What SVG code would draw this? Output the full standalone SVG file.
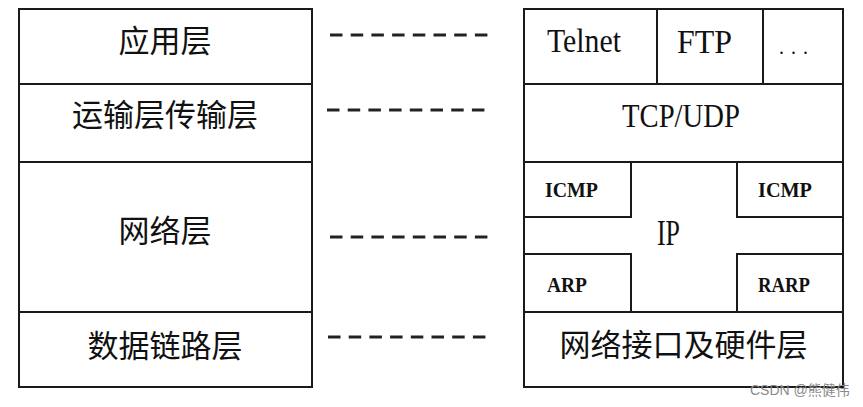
<svg xmlns="http://www.w3.org/2000/svg" width="863" height="407" viewBox="0 0 863 407">
<style>
.box{fill:#fff;stroke:#1a1a1a;stroke-width:2}
.cn{font-family:"Noto Sans CJK SC","Noto Sans CJK TC",sans-serif;font-size:31px;fill:#111;text-anchor:middle}
.en{font-family:"Liberation Serif","Times New Roman",serif;fill:#111;text-anchor:middle}
.big{font-size:33px}
.sm{font-size:22px;font-weight:bold}
.dash{stroke:#222;stroke-width:3;stroke-dasharray:12.5 8.2;fill:none}
.wm{font-family:"Liberation Sans","Noto Sans CJK SC",sans-serif;font-size:14px;fill:#8a8a8a}
</style>
<rect width="863" height="407" fill="#fff"/>
<g id="left-stack">
<g id="app"><rect class="box" x="19" y="9" width="293" height="75"/><text class="cn" x="165" y="52">应用层</text></g>
<g id="transport"><rect class="box" x="19" y="84" width="293" height="78"/><text class="cn" x="165" y="126">运输层传输层</text></g>
<g id="network"><rect class="box" x="19" y="162" width="293" height="150"/><text class="cn" x="165" y="242">网络层</text></g>
<g id="datalink"><rect class="box" x="19" y="312" width="293" height="75"/><text class="cn" x="165" y="357">数据链路层</text></g>
</g>
<g id="right-stack">
<g id="telnet"><rect class="box" x="524" y="9" width="133" height="75"/><text class="en big" x="584" y="52" textLength="74" lengthAdjust="spacingAndGlyphs">Telnet</text></g>
<g id="ftp"><rect class="box" x="657" y="9" width="106" height="75"/><text class="en big" x="704.5" y="53" textLength="55" lengthAdjust="spacingAndGlyphs">FTP</text></g>
<g id="more"><rect class="box" x="763" y="9" width="80" height="75"/><text class="en" x="793.5" y="54" font-size="20" fill="#555" textLength="29" lengthAdjust="spacing">...</text></g>
<g id="tcpudp"><rect class="box" x="524" y="84" width="319" height="78"/><text class="en big" x="681" y="127" textLength="118" lengthAdjust="spacingAndGlyphs">TCP/UDP</text></g>
<g id="ip"><polygon class="box" points="631,162 737,162 737,217 843,217 843,254 737,254 737,312 631,312 631,254 524,254 524,217 631,217"/><text class="en" x="668.5" y="245" font-size="35" textLength="23" lengthAdjust="spacingAndGlyphs">IP</text></g>
<g id="icmp-left"><rect class="box" x="524" y="162" width="107" height="55"/><text class="en sm" x="571.5" y="197" textLength="53" lengthAdjust="spacingAndGlyphs">ICMP</text></g>
<g id="icmp-right"><rect class="box" x="737" y="162" width="106" height="55"/><text class="en sm" x="785" y="197" textLength="54" lengthAdjust="spacingAndGlyphs">ICMP</text></g>
<g id="arp"><rect class="box" x="524" y="254" width="107" height="58"/><text class="en sm" x="567" y="292" textLength="40" lengthAdjust="spacingAndGlyphs">ARP</text></g>
<g id="rarp"><rect class="box" x="737" y="254" width="106" height="58"/><text class="en sm" x="784" y="292" textLength="52" lengthAdjust="spacingAndGlyphs">RARP</text></g>
<g id="hardware"><rect class="box" x="524" y="312" width="319" height="75"/><text class="cn" x="683.5" y="356">网络接口及硬件层</text></g>
</g>
<g id="connectors">
<line class="dash" x1="330" y1="35" x2="488" y2="35"/>
<line class="dash" x1="327" y1="110" x2="485" y2="110"/>
<line class="dash" x1="330" y1="237" x2="488" y2="237"/>
<line class="dash" x1="328" y1="337" x2="486" y2="337"/>
</g>
<text class="wm" x="750" y="395">CSDN @熊健伟</text>
</svg>
